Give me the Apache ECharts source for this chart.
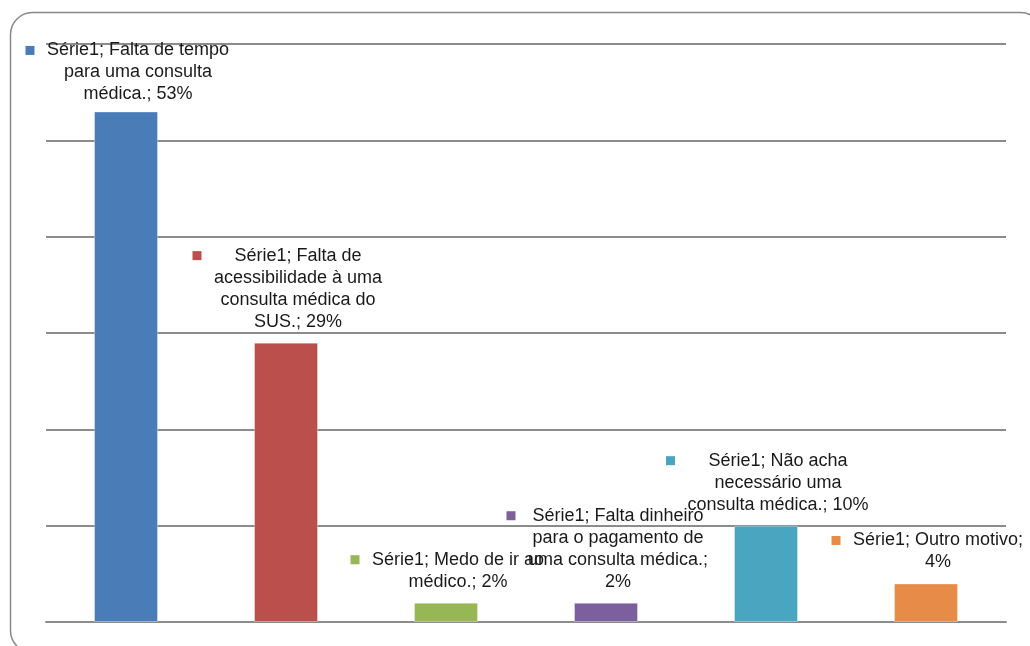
<!DOCTYPE html>
<html>
<head>
<meta charset="utf-8">
<script src="https://cdn.jsdelivr.net/npm/echarts@6/dist/echarts.min.js"></script>
<style>
  html, body { margin: 0; padding: 0; background: #ffffff; }
  #chart { width: 1030px; height: 646px; }
</style>
</head>
<body>
<div id="chart"></div>
<script>
// Reasons given for not seeing a doctor (percent of respondents)
const seriesName = 'Série1';
const categories = [
  'Falta de tempo\npara uma consulta\nmédica.',
  'Falta de\nacessibilidade à uma\nconsulta médica do\nSUS.',
  'Medo de ir ao\nmédico.',
  'Falta dinheiro\npara o pagamento de\numa consulta médica.',
  'Não acha\nnecessário uma\nconsulta médica.',
  'Outro motivo'
];
const values = [53, 29, 2, 2, 10, 4];
// separator placed between the reason and its percentage in each label
const valueSeparators = ['; ', '; ', '; ', ';\n', '; ', ';\n'];
const colors = ['#4A7DB8', '#BA4F4B', '#97B655', '#7C609E', '#4AA5C0', '#E68C48'];
const yTicks = [0, 10, 20, 30, 40, 50, 60];

const FONT_SIZE = 18;
const FONT_FAMILY = 'Liberation Sans';
const LINE_HEIGHT = 22;
const TEXT_COLOR = '#1a1a1a';

// width of the widest line of a label, so every line can be centred in one column
const measureCtx = document.createElement('canvas').getContext('2d');
measureCtx.font = FONT_SIZE + 'px "' + FONT_FAMILY + '"';
function widest(lines) {
  return Math.ceil(Math.max.apply(null, lines.map(l => measureCtx.measureText(l).width))) + 2;
}

function buildLabel(i) {
  const text = seriesName + '; ' + categories[i] + valueSeparators[i] + values[i] + '%';
  const lines = text.split('\n');
  const w = widest(lines);
  const formatted = lines.map((l, n) =>
    (n === 0 ? '{k| }{g| }' : '{s| }') + '{t|' + l + '}'
  ).join('\n');
  const base = { lineHeight: LINE_HEIGHT, fontSize: FONT_SIZE, fontFamily: FONT_FAMILY, color: TEXT_COLOR };
  // the tallest label is nudged down so it stays inside the plot frame
  const dy = i === 0 ? 5 : 1;
  return {
    show: true,
    position: 'top',
    distance: 11,
    offset: [2, dy],
    formatter: formatted,
    lineHeight: LINE_HEIGHT,
    fontSize: FONT_SIZE,
    fontFamily: FONT_FAMILY,
    color: TEXT_COLOR,
    rich: {
      k: Object.assign({}, base, { width: 9, height: 9, backgroundColor: colors[i], align: 'left' }),
      g: Object.assign({}, base, { width: 11, align: 'left' }),
      s: Object.assign({}, base, { width: 20, align: 'left' }),
      t: Object.assign({}, base, { width: w, align: 'center' })
    }
  };
}

const chart = echarts.init(document.getElementById('chart'), null, { renderer: 'canvas' });

chart.setOption({
  animation: false,
  backgroundColor: '#ffffff',
  graphic: [{
    type: 'rect',
    z: -10,
    shape: { x: 10.5, y: 12.5, width: 1032, height: 640, r: 22 },
    style: { fill: 'none', stroke: '#888888', lineWidth: 1.5 }
  }],
  grid: { left: 46, right: 24, top: 44, bottom: 24, containLabel: false },
  xAxis: {
    type: 'category',
    data: categories,
    axisLine: { show: true, lineStyle: { color: '#8c8c8c', width: 2 } },
    axisTick: { show: false },
    axisLabel: { show: false }
  },
  yAxis: {
    type: 'value',
    min: yTicks[0],
    max: yTicks[yTicks.length - 1],
    interval: yTicks[1] - yTicks[0],
    axisLine: { show: false },
    axisTick: { show: false },
    axisLabel: { show: false },
    splitLine: { show: true, lineStyle: { color: '#8c8c8c', width: 2 } }
  },
  series: [{
    name: seriesName,
    type: 'bar',
    barCategoryGap: '60%',
    data: values.map((v, i) => ({
      value: v,
      itemStyle: { color: colors[i], borderColor: 'rgba(255,255,255,0.35)', borderWidth: 1 },
      label: buildLabel(i)
    }))
  }]
});
</script>
</body>
</html>
